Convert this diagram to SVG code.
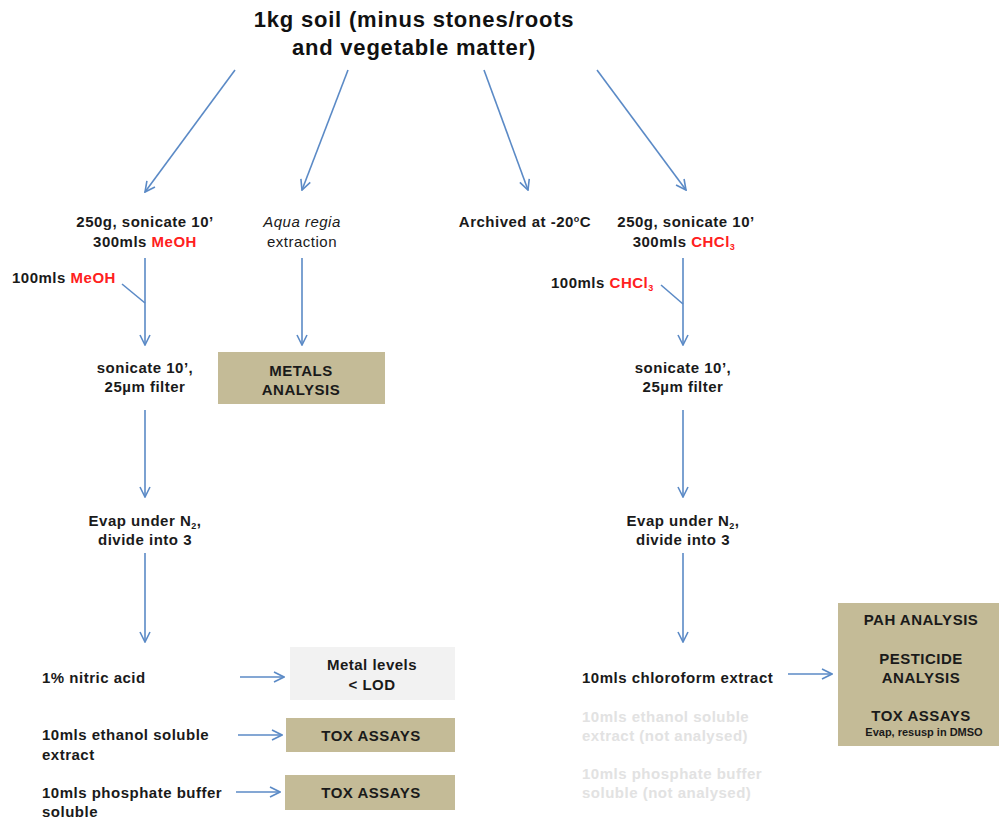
<svg xmlns="http://www.w3.org/2000/svg" width="999" height="820" viewBox="0 0 999 820">
<style>
.t{font-family:"Liberation Sans",Arial,sans-serif;font-size:15px;font-weight:bold;fill:#1a1a1a;letter-spacing:0.5px}
.c{text-anchor:middle}
.r{fill:#ff2020}
.g{fill:#e2e2e2}
.title{font-family:"Liberation Sans",Arial,sans-serif;font-size:22px;font-weight:bold;fill:#111;text-anchor:middle;letter-spacing:0.8px}
.ln{stroke:#5b8ac6;stroke-width:1.6;fill:none}
.tan{fill:#c4bb97}
</style>
<defs>
<marker id="ah" viewBox="0 0 12 12" refX="11" refY="6" markerWidth="12" markerHeight="12" markerUnits="userSpaceOnUse" orient="auto">
<path d="M1,1 L11,6 L1,11" fill="none" stroke="#5b8ac6" stroke-width="1.6"/>
</marker>
</defs>
<rect width="999" height="820" fill="#fff"/>
<g id="title"><text class="title" x="414" y="27">1kg soil (minus stones/roots</text><text class="title" x="414" y="55">and vegetable matter)</text></g>
<g id="connectors">
<line class="ln" x1="235" y1="70" x2="145" y2="192" marker-end="url(#ah)"/>
<line class="ln" x1="348" y1="70" x2="302" y2="190" marker-end="url(#ah)"/>
<line class="ln" x1="484" y1="70" x2="528" y2="190" marker-end="url(#ah)"/>
<line class="ln" x1="597" y1="70" x2="686" y2="190" marker-end="url(#ah)"/>
<line class="ln" x1="145" y1="258" x2="145" y2="345" marker-end="url(#ah)"/>
<line class="ln" x1="122" y1="284" x2="145" y2="303"/>
<line class="ln" x1="302" y1="258" x2="302" y2="345" marker-end="url(#ah)"/>
<line class="ln" x1="145" y1="410" x2="145" y2="497" marker-end="url(#ah)"/>
<line class="ln" x1="145" y1="553" x2="145" y2="642" marker-end="url(#ah)"/>
<line class="ln" x1="240" y1="677" x2="284" y2="677" marker-end="url(#ah)"/>
<line class="ln" x1="238" y1="735" x2="282" y2="735" marker-end="url(#ah)"/>
<line class="ln" x1="236" y1="792" x2="280" y2="792" marker-end="url(#ah)"/>
<line class="ln" x1="683" y1="258" x2="683" y2="345" marker-end="url(#ah)"/>
<line class="ln" x1="661" y1="285" x2="683" y2="304"/>
<line class="ln" x1="683" y1="410" x2="683" y2="497" marker-end="url(#ah)"/>
<line class="ln" x1="683" y1="553" x2="683" y2="642" marker-end="url(#ah)"/>
<line class="ln" x1="788" y1="674" x2="832" y2="674" marker-end="url(#ah)"/>
</g>
<g id="meoh-start"><text class="t c" x="145" y="227">250g, sonicate 10’</text><text class="t c" x="145" y="247">300mls <tspan class="r">MeOH</tspan></text></g>
<g id="aqua"><text class="t c" x="302" y="227" style="font-style:italic;font-weight:normal">Aqua regia</text><text class="t c" x="302" y="247" style="font-weight:normal">extraction</text></g>
<g id="archived"><text class="t c" x="525" y="227">Archived at -20<tspan font-size="9" dy="-5">o</tspan><tspan dy="5">C</tspan></text></g>
<g id="chcl3-start"><text class="t c" x="686" y="227">250g, sonicate 10’</text><text class="t c" x="684" y="247">300mls <tspan class="r">CHCl<tspan font-size="9" dy="3">3</tspan></tspan></text></g>
<g id="meoh-add"><text class="t" x="12" y="283">100mls <tspan class="r">MeOH</tspan></text></g>
<g id="chcl3-add"><text class="t" x="551" y="288">100mls <tspan class="r">CHCl<tspan font-size="9" dy="3">3</tspan></tspan></text></g>
<g id="meoh-sonicate"><text class="t c" x="145" y="373">sonicate 10’,</text><text class="t c" x="145" y="392">25µm filter</text></g>
<g id="metals"><rect class="tan" x="218" y="352" width="167" height="52"/><text class="t c" x="301" y="376">METALS</text><text class="t c" x="301" y="395">ANALYSIS</text></g>
<g id="chcl3-sonicate"><text class="t c" x="683" y="373">sonicate 10’,</text><text class="t c" x="683" y="392">25µm filter</text></g>
<g id="meoh-evap"><text class="t c" x="145" y="526">Evap under N<tspan font-size="9" dy="3">2</tspan><tspan dy="-3">,</tspan></text><text class="t c" x="145" y="545">divide into 3</text></g>
<g id="chcl3-evap"><text class="t c" x="683" y="526">Evap under N<tspan font-size="9" dy="3">2</tspan><tspan dy="-3">,</tspan></text><text class="t c" x="683" y="545">divide into 3</text></g>
<g id="nitric"><text class="t" x="42" y="683">1% nitric acid</text></g>
<g id="lod"><rect x="290" y="647" width="165" height="53" fill="#f2f2f2"/><text class="t c" x="372" y="670">Metal levels</text><text class="t c" x="372" y="690">&lt; LOD</text></g>
<g id="ethanol"><text class="t" x="42" y="740">10mls ethanol soluble</text><text class="t" x="42" y="760">extract</text></g>
<g id="tox1"><rect class="tan" x="286" y="718" width="169" height="34"/><text class="t c" x="371" y="741">TOX ASSAYS</text></g>
<g id="phosphate"><text class="t" x="42" y="798">10mls phosphate buffer</text><text class="t" x="42" y="817">soluble</text></g>
<g id="tox2"><rect class="tan" x="285" y="775" width="170" height="35"/><text class="t c" x="371" y="798">TOX ASSAYS</text></g>
<g id="chloroform"><text class="t" x="582" y="683">10mls chloroform extract</text></g>
<g id="pah"><rect class="tan" x="838" y="603" width="161" height="143"/><text class="t c" x="921" y="625">PAH ANALYSIS</text><text class="t c" x="921" y="664">PESTICIDE</text><text class="t c" x="921" y="683">ANALYSIS</text><text class="t c" x="921" y="721">TOX ASSAYS</text><text class="t c" x="924" y="736" style="font-size:11px;letter-spacing:0">Evap, resusp in DMSO</text></g>
<g id="ethanol-na"><text class="t g" x="582" y="722">10mls ethanol soluble</text><text class="t g" x="582" y="741">extract  (not analysed)</text></g>
<g id="phosphate-na"><text class="t g" x="582" y="779">10mls phosphate buffer</text><text class="t g" x="582" y="798">soluble  (not analysed)</text></g>
</svg>
